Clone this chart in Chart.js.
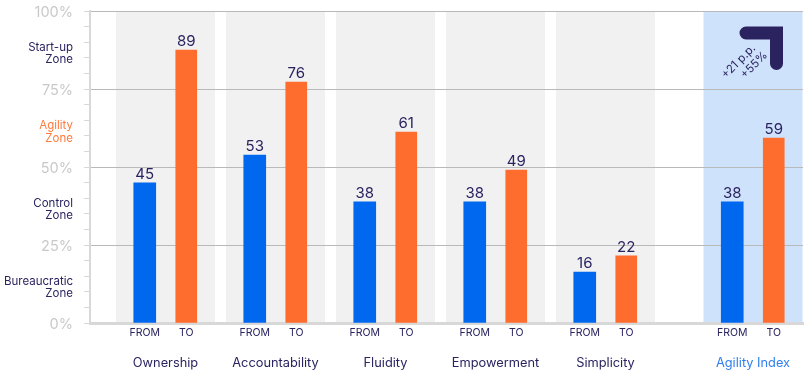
<!DOCTYPE html>
<html>
<head>
<meta charset="utf-8">
<style>
  html, body { margin: 0; padding: 0; background: #fff; }
  #wrap { width: 810px; height: 375px; }
</style>
<script src="https://cdn.jsdelivr.net/npm/chart.js@4"></script>
</head>
<body>
<div id="wrap"><canvas id="chart" width="810" height="375"></canvas></div>
<script>
const categories = ['Ownership', 'Accountability', 'Fluidity', 'Empowerment', 'Simplicity', 'Agility Index'];
const fromValues = [45, 53, 38, 38, 16, 38];
const toValues = [89, 76, 61, 49, 22, 59];
// bar heights as drawn against the axis, they do not quite follow the printed numbers
const fromHeights = [44.9, 53.8, 38.8, 38.8, 16.3, 38.8];
const toHeights = [87.5, 77.2, 61.2, 49, 21.5, 59.3];
const pairLabels = ['FROM', 'TO'];
const zoneLabels = [['Bureaucratic', 'Zone'], ['Control', 'Zone'], ['Agility', 'Zone'], ['Start-up', 'Zone']];
const zoneCentres = [11.5, 36.5, 61.2, 86.4];
const percentTicks = [0, 25, 50, 75, 100];
const deltaLabels = ['+21 p.p.', '+55%'];

const NAVY = '#2a2360';
const BLUE = '#0068ee';
const ORANGE = '#ff6d2e';
const font = 'Inter, sans-serif';

const lastIndex = categories.length - 1;

function groupCentre(i) {
    return 75.5 + i * 110 + (i === lastIndex ? 37.5 : 0);
}
const fromX = i => groupCentre(i) - 20.75;
const toX = i => groupCentre(i) + 20.75;

const bandsPlugin = {
    id: 'bands',
    beforeDraw(chart) {
        const { ctx, scales: { x, y } } = chart;
        ctx.save();
        categories.forEach((c, i) => {
            ctx.fillStyle = i === lastIndex ? '#cfe2fb' : '#f1f1f1';
            const left = x.getPixelForValue(groupCentre(i) - 49.5);
            const right = x.getPixelForValue(groupCentre(i) + 49.5);
            ctx.fillRect(left, y.getPixelForValue(100), right - left, y.getPixelForValue(0) - y.getPixelForValue(100));
        });
        ctx.restore();
    }
};

const valueLabelsPlugin = {
    id: 'valueLabels',
    afterDatasetsDraw(chart) {
        const { ctx } = chart;
        ctx.save();
        ctx.font = '15px ' + font;
        ctx.fillStyle = NAVY;
        ctx.textAlign = 'center';
        ctx.textBaseline = 'bottom';
        [fromValues, toValues].forEach((values, d) => {
            chart.getDatasetMeta(d).data.forEach((bar, i) => {
                ctx.fillText(values[i], bar.x, bar.y - 1);
            });
        });
        ctx.restore();
    }
};

// arrow badge in the top corner of the Agility Index band
const badgePlugin = {
    id: 'badge',
    afterDraw(chart) {
        const { ctx } = chart;
        ctx.save();
        ctx.strokeStyle = NAVY;
        ctx.lineWidth = 13;
        ctx.lineCap = 'round';
        ctx.lineJoin = 'miter';
        ctx.beginPath();
        ctx.moveTo(746, 33);
        ctx.lineTo(776.5, 33);
        ctx.lineTo(776.5, 63.5);
        ctx.stroke();

        ctx.fillStyle = NAVY;
        ctx.font = '11.5px ' + font;
        ctx.textAlign = 'center';
        ctx.textBaseline = 'middle';
        [[738.5, 61.5], [754, 65]].forEach((p, i) => {
            ctx.save();
            ctx.translate(p[0], p[1]);
            ctx.rotate(-Math.PI / 4);
            ctx.fillText(deltaLabels[i], 0, 0);
            ctx.restore();
        });
        ctx.restore();
    }
};

function zoneIndex(value) {
    return zoneCentres.indexOf(value);
}

function xTickInfo(value) {
    for (let i = 0; i < categories.length; i++) {
        if (value === fromX(i)) return { text: pairLabels[0] };
        if (value === toX(i)) return { text: pairLabels[1] };
        if (value === groupCentre(i)) return { text: ['', categories[i]], group: i };
    }
    return { text: '' };
}

new Chart(document.getElementById('chart'), {
    type: 'bar',
    data: {
        datasets: [
            {
                label: pairLabels[0],
                data: fromHeights.map((v, i) => ({ x: fromX(i), y: v })),
                backgroundColor: BLUE,
                barThickness: 22,
                grouped: false
            },
            {
                label: pairLabels[1],
                data: toHeights.map((v, i) => ({ x: toX(i), y: v })),
                backgroundColor: ORANGE,
                barThickness: 21,
                grouped: false
            }
        ]
    },
    options: {
        responsive: false,
        animation: false,
        layout: { padding: { top: 11, right: 7, left: 0, bottom: 0 } },
        plugins: {
            legend: { display: false },
            tooltip: { enabled: false }
        },
        scales: {
            x: {
                type: 'linear',
                offset: false,
                min: 0,
                max: 713,
                afterBuildTicks(scale) {
                    const ticks = [];
                    categories.forEach((c, i) => {
                        ticks.push({ value: fromX(i) }, { value: groupCentre(i) }, { value: toX(i) });
                    });
                    scale.ticks = ticks;
                },
                afterFit(scale) {
                    scale.height = 52;
                    scale.paddingLeft = 0;
                    scale.paddingRight = 0;
                },
                grid: { display: false, offset: false, drawTicks: false },
                border: { color: '#d8d8d8', width: 3 },
                ticks: {
                    autoSkip: false,
                    maxRotation: 0,
                    padding: 4,
                    callback: value => xTickInfo(value).text,
                    font: ctx => {
                        const group = ctx.tick && xTickInfo(ctx.tick.value).group !== undefined;
                        return group ? { family: font, size: 12.8, lineHeight: 1.9 } : { family: font, size: 10.5 };
                    },
                    color: ctx => {
                        return ctx.tick && xTickInfo(ctx.tick.value).group === lastIndex ? '#2f7ff0' : NAVY;
                    }
                }
            },
            y: {
                min: 0,
                max: 100,
                afterBuildTicks(scale) {
                    const ticks = [];
                    for (let v = 0; v <= 100; v += 5) ticks.push({ value: v });
                    zoneCentres.forEach(v => ticks.push({ value: v }));
                    ticks.sort((a, b) => a.value - b.value);
                    scale.ticks = ticks;
                },
                afterFit(scale) {
                    scale.width = 90;
                    scale.paddingTop = 0;
                    scale.paddingBottom = 0;
                },
                border: { color: '#d8d8d8', width: 2 },
                grid: {
                    tickLength: 6,
                    lineWidth: 1,
                    color: ctx => percentTicks.includes(ctx.tick.value) && ctx.tick.value > 0 ? '#b9b9b9' : 'rgba(0,0,0,0)',
                    tickColor: ctx => zoneIndex(ctx.tick.value) >= 0 ? 'rgba(0,0,0,0)' : '#d8d8d8'
                },
                ticks: {
                    autoSkip: false,
                    padding: 11,
                    callback: value => {
                        // empty first line nudges the percent text down to sit on its line
                        if (percentTicks.includes(value)) return ['', value + '%'];
                        const z = zoneIndex(value);
                        return z >= 0 ? zoneLabels[z] : '';
                    },
                    font: ctx => {
                        return ctx.tick && zoneIndex(ctx.tick.value) >= 0
                            ? { family: font, size: 11.5, lineHeight: 1.05 }
                            : { family: font, size: 14.5, lineHeight: '4px' };
                    },
                    color: ctx => {
                        const z = ctx.tick ? zoneIndex(ctx.tick.value) : -1;
                        if (z === 2) return '#ff7a3d';
                        return z >= 0 ? NAVY : '#c9c9c9';
                    }
                }
            }
        }
    },
    plugins: [bandsPlugin, valueLabelsPlugin, badgePlugin]
});
</script>
</body>
</html>
